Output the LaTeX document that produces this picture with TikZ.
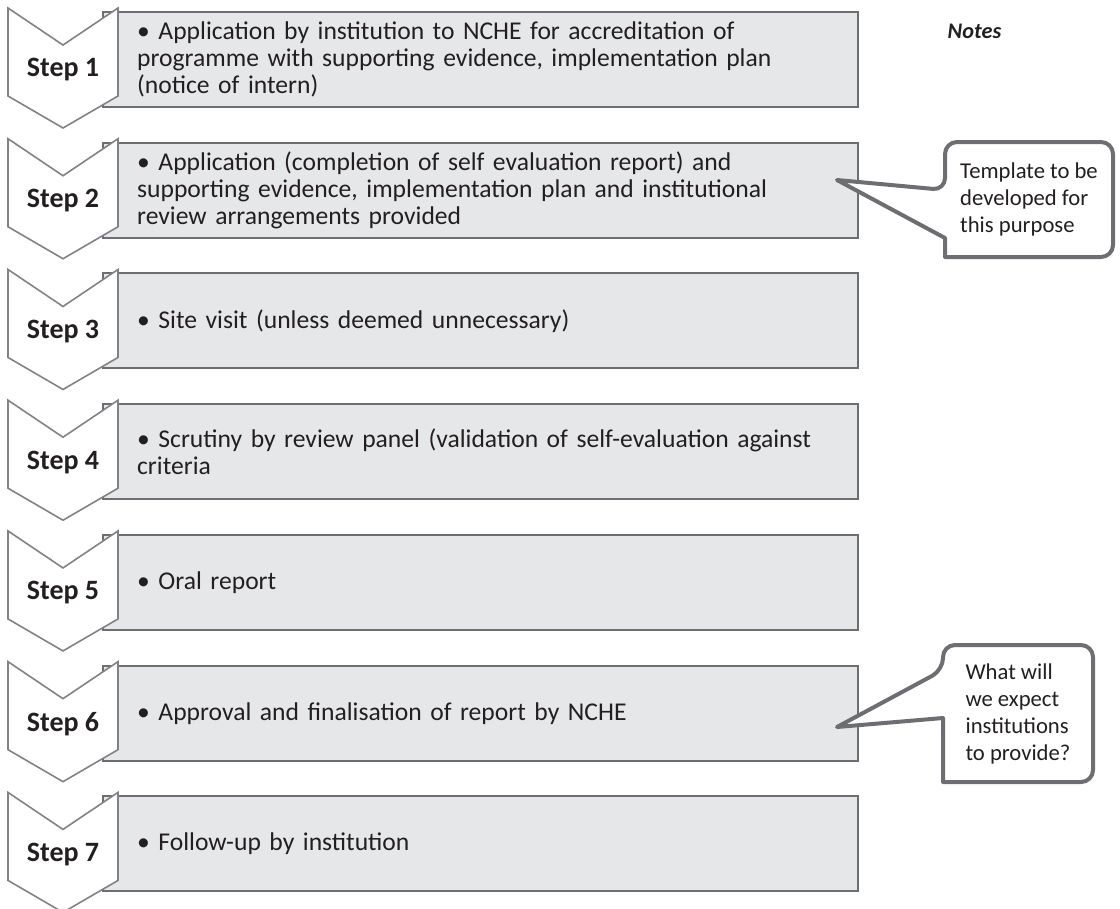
\documentclass[tikz,border=0pt]{standalone}
\usepackage{fontspec}
\setmainfont{Carlito}
\usetikzlibrary{calc,positioning}

\definecolor{boxfill}{HTML}{E6E7E8}
\definecolor{boxline}{HTML}{6D6E71}
\definecolor{chevline}{HTML}{808285}
\definecolor{inktext}{HTML}{231F20}

\begin{document}
\begin{tikzpicture}[
      x=0.75pt, y=-0.75pt,
      node distance=26.8pt,
      stepbox/.style={draw=boxline, fill=boxfill, line width=1.5pt, outer sep=0pt,
        minimum width=566.25pt, minimum height=71.25pt, text width=515pt,
        inner xsep=25.5pt, align=left, text=inktext,
        font=\fontsize{19.2}{20}\selectfont},
      steplabel/.style={font=\fontsize{21}{24}\selectfont\bfseries, text=inktext},
      chevron/.pic={\draw[draw=chevline, fill=white, line width=1.2pt]
        (-55,-62) -- (0,-25) -- (55,-62) -- (55,26) -- (0,58) -- (-55,26) -- cycle;},
      noteshape/.style={outer sep=0pt, inner sep=0pt},
      notetext/.style={align=left, text=inktext,
        font=\fontsize{17}{20.25}\selectfont},
      notebox/.style={draw=boxline, fill=white, line width=3pt, line join=round}
    ]
    \useasboundingbox (0,0) rectangle (1120,908);

    \node[stepbox] (box1) at (480.5,59.5)
      {\textbullet\ Application by institution to NCHE for accreditation of\\
       programme with supporting evidence, implementation plan\\
       (notice of intern)};
    \node[stepbox, below=of box1] (box2)
      {\textbullet\ Application (completion of self evaluation report) and\\
       supporting evidence, implementation plan and institutional\\
       review arrangements provided};
    \node[stepbox, below=of box2] (box3)
      {\textbullet\ Site visit (unless deemed unnecessary)};
    \node[stepbox, below=of box3] (box4)
      {\textbullet\ Scrutiny by review panel (validation of self-evaluation against\\
       criteria};
    \node[stepbox, below=of box4] (box5)
      {\textbullet\ Oral report};
    \node[stepbox, below=of box5] (box6)
      {\textbullet\ Approval and finalisation of report by NCHE};
    \node[stepbox, below=of box6] (box7)
      {\textbullet\ Follow-up by institution};

    % chevrons sit over the left end of each box
    \foreach \n in {1,...,7}
      \path ($(box\n.west)+(-40,10.5)$) pic {chevron} node[steplabel] (step\n) {Step \n};

    \node[font=\fontsize{16.7}{20}\selectfont\bfseries\itshape, text=inktext,
      anchor=base west] (notes) at (943,38) {Notes};

    % callouts
    \node[noteshape, minimum width=126pt, minimum height=86.25pt] (note1) at (1029,199.5) {};
    \coordinate (tip1) at (837,180);
    \draw[notebox] (tip1) -- ($(note1.north west)+(0,96)$) -- (note1.south west)
      [rounded corners=9pt] -- (note1.south east) -- (note1.north east)
      -- (note1.north west) -- ($(note1.north west)+(0,48)$) [sharp corners] -- cycle;
    \node[notetext] (text1) at (note1) {Template to be\\developed for\\this purpose};

    \node[noteshape, minimum width=112.5pt, minimum height=102.75pt] (note2) at (1018,713.5) {};
    \coordinate (tip2) at (837,727);
    \draw[notebox] (tip2) -- ($(note2.north west)+(0,73)$) -- (note2.south west)
      [rounded corners=9pt] -- (note2.south east) -- (note2.north east)
      -- (note2.north west) -- ($(note2.north west)+(0,25)$) [sharp corners] -- cycle;
    \node[notetext] (text2) at (note2) {What will\\we expect\\institutions\\to provide?};
  \end{tikzpicture}
\end{document}
